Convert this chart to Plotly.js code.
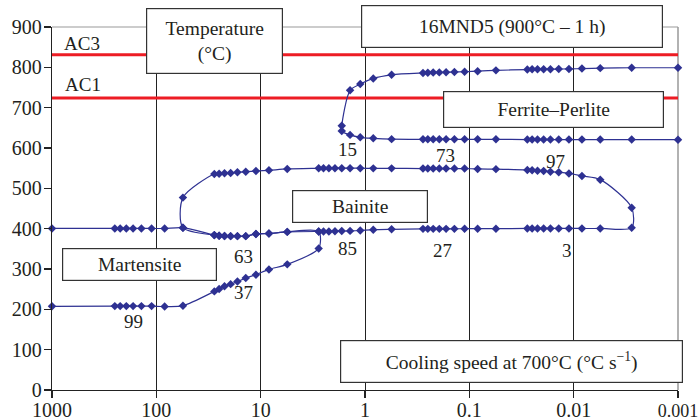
<!DOCTYPE html>
<html>
<head>
<meta charset="utf-8">
<script src="https://cdn.plot.ly/plotly-3.0.1.min.js"></script>
<style>html,body{margin:0;padding:0;background:#fff;}#chart{width:698px;height:420px;}</style>
</head>
<body>
<div id="chart"></div>
<script>
// ---- Data (cooling speed at 700 °C in °C/s, temperature in °C) ----
const xTickVals = [1000, 100, 10, 1, 0.1, 0.01, 0.001];
const xTickText = ['1000', '100', '10', '1', '0.1', '0.01', '<span style="font-size:18px">0.001</span>'];
const yTickVals = [0, 100, 200, 300, 400, 500, 600, 700, 800, 900];

const acNames = ['AC3', 'AC1'];
const acTemps = [831, 724];

// Ferrite–Perlite domain (start line, nose, finish line)
const ferriteX = [0.001, 0.00278, 0.00556, 0.00833, 0.0111, 0.0139, 0.0167, 0.0194, 0.0222, 0.025, 0.0278,
  0.0556, 0.0833, 0.111, 0.139, 0.167, 0.194, 0.222, 0.25, 0.278, 0.556, 0.833, 1.11, 1.39,
  1.67, 1.67,
  1.39, 1.11, 0.833, 0.556, 0.278, 0.25, 0.222, 0.194, 0.167, 0.139, 0.111, 0.0833, 0.0556,
  0.0278, 0.025, 0.0222, 0.0194, 0.0167, 0.0139, 0.0111, 0.00833, 0.00556, 0.00278, 0.001];
const ferriteT = [799, 799, 798, 797, 796, 795.8, 795.5, 795.3, 795, 795, 794.5,
  792.5, 790.5, 789, 788.5, 788, 787.5, 787, 786.5, 786, 781.5, 772.5, 758.5, 743,
  655, 642,
  632.5, 626.5, 624, 622, 621.5, 621.5, 621.5, 621.5, 621.5, 621.5, 621.5, 621.5, 621.5,
  621, 621, 621, 621, 621, 621, 621, 621, 621, 621, 620.7];

// Bainite domain (start line, nose, finish line)
const bainiteX = [27.8, 55.6, 55.6, 27.8, 25, 22.2, 19.4, 16.7, 13.9, 11.1, 8.33, 5.56,
  2.78, 2.5, 2.22, 1.94, 1.67, 1.39, 1.11, 0.833, 0.556, 0.278, 0.25, 0.222, 0.194, 0.167, 0.139, 0.111,
  0.0833, 0.0556, 0.0278, 0.025, 0.0222, 0.0194, 0.0167, 0.0139, 0.0111, 0.00833, 0.00556, 0.00278,
  0.00278, 0.00556, 0.00833, 0.0111, 0.0139, 0.0167, 0.0194, 0.0222, 0.025, 0.0278, 0.0556, 0.0833,
  0.111, 0.139, 0.167, 0.194, 0.222, 0.25, 0.278, 0.556, 0.833, 1.11, 1.39, 1.67, 1.94, 2.22, 2.5,
  2.78, 5.56, 8.33, 11.1, 13.9, 16.7, 19.4, 22.2, 25, 27.8];
const bainiteT = [384, 402.5, 477, 535.6, 536.4, 537.3, 538, 539.8, 541.3, 543, 544.7, 548,
  549.7, 550, 550, 550, 550, 550, 550, 549.5, 549.5, 549, 549, 549, 549, 549, 549, 549,
  548, 547.6, 545.5, 544.6, 543.8, 543, 541.3, 539.7, 537, 530.6, 521.5, 452,
  402.5, 400.5, 400.5, 400.5, 400.5, 400.5, 400.5, 400.5, 400.5, 400.5, 400, 400,
  400, 399.5, 399.5, 399.5, 399.5, 399.5, 399.5, 398.4, 397.5, 395.5, 394.5, 394, 393.5, 393, 393,
  393, 392, 388, 387, 381.5, 381.5, 381.5, 382, 382.5, 384];

// Martensite domain (Ms line and lower line)
const martX = [1000, 250, 222, 194, 167, 139, 111, 83.3, 55.6, 27.8, 25, 22.2, 19.4, 16.7, 13.9, 11.1,
  8.33, 5.56, 2.78, 2.78, 5.56, 8.33, 11.1, 13.9, 16.7, 19.4, 22.2, 25, 27.8, 55.6, 83.3, 111, 139,
  167, 194, 222, 250, 1000];
const martT = [400.5, 400.5, 400.5, 400.5, 400.5, 400.5, 400.5, 400.5, 402.5, 384, 382.5, 382, 381.5, 381.5, 381.5, 387,
  388, 392, 393, 351, 311.5, 299, 286, 277.5, 269, 262.5, 257, 250.5, 244.5, 209, 207, 208, 208,
  208, 208, 208, 208, 207.5];

// Phase percentage labels
const pctText = ['15', '73', '97', '63', '85', '27', '3', '37', '99'];
const pctPx = [[347.7, 149.5], [445.7, 155.7], [555, 161.7], [243.3, 256], [347.3, 248.3],
  [442.7, 250.7], [566.7, 250.7], [243.3, 292.7], [133.3, 321]];

// ---- Layout helpers (pixel -> paper) ----
const L = 52, R = 20, T = 27, B = 30, W = 698, H = 420;
const pw = W - L - R, ph = H - T - B;
const px = x => (x - L) / pw;
const py = y => (H - B - y) / ph;

const BLUE = '#2e3192';
const RED = '#ed1c24';
const INK = '#231f20';
const FONT = 'Liberation Serif, Times New Roman, serif';

function curve(xs, ys) {
  return {
    x: xs, y: ys, type: 'scatter', mode: 'lines+markers',
    line: {color: BLUE, width: 1.2, shape: 'spline', smoothing: 0.8},
    marker: {symbol: 'diamond', size: 6.5, color: BLUE},
    cliponaxis: false, hoverinfo: 'skip'
  };
}

const traces = [];
acTemps.forEach(t => traces.push({
  x: [1000, 0.001], y: [t, t], type: 'scatter', mode: 'lines',
  line: {color: RED, width: 3}, hoverinfo: 'skip', cliponaxis: false
}));
traces.push(curve(ferriteX, ferriteT));
traces.push(curve(bainiteX, bainiteT));
traces.push(curve(martX, martT));

function box(text, x0, x1, y0, y1, size) {
  return {
    xref: 'paper', yref: 'paper', x: px((x0 + x1) / 2), y: py((y0 + y1) / 2),
    xanchor: 'center', yanchor: 'middle', showarrow: false,
    text: text, width: x1 - x0 - 2, height: y1 - y0 - 2,
    bgcolor: '#ffffff', bordercolor: '#333333', borderwidth: 1.2, borderpad: 0,
    font: {family: FONT, size: size || 19.5, color: INK}
  };
}
function label(text, x, y) {
  return {
    xref: 'paper', yref: 'paper', x: px(x), y: py(y), xanchor: 'center', yanchor: 'middle',
    showarrow: false, text: text, font: {family: FONT, size: 19, color: INK}
  };
}

const annotations = [
  box('Temperature<br>(°C)', 146, 283, 8, 74),
  box('16MND5 (900°C – 1 h)', 361, 663, 5, 48),
  box('Ferrite–Perlite', 443, 664, 91, 128),
  box('Bainite', 292, 428, 190, 223),
  box('Martensite', 62, 217, 248, 281),
  box('Cooling speed at 700°C (°C s<sup>−1</sup>)', 340, 683, 340, 383),
  label(acNames[0], 81.7, 43.3),
  label(acNames[1], 83.3, 84)
];
pctText.forEach((t, i) => annotations.push(label(t, pctPx[i][0], pctPx[i][1])));

const layout = {
  width: W, height: H,
  margin: {l: L, r: R, t: T, b: B, pad: 0},
  paper_bgcolor: '#ffffff', plot_bgcolor: '#ffffff',
  showlegend: false,
  font: {family: FONT, size: 19, color: INK},
  xaxis: {
    type: 'log', range: [3, -3], tickmode: 'array', tickvals: xTickVals, ticktext: xTickText,
    showgrid: true, gridcolor: '#222222', gridwidth: 1,
    showline: true, linecolor: '#222222', linewidth: 1.2,
    ticks: 'outside', ticklen: 7, tickcolor: '#222222', tickwidth: 1.2,
    ticklabelstandoff: -5, ticklabeloverflow: 'allow',
    zeroline: false, fixedrange: true,
    tickfont: {family: FONT, size: 20, color: INK}
  },
  yaxis: {
    range: [0, 900], tickmode: 'array', tickvals: yTickVals,
    showgrid: false, showline: true, linecolor: '#222222', linewidth: 1.2,
    ticks: 'outside', ticklen: 7, tickcolor: '#222222', tickwidth: 1.2,
    ticklabelstandoff: -2, ticklabeloverflow: 'allow',
    zeroline: false, fixedrange: true,
    tickfont: {family: FONT, size: 20, color: INK}
  },
  shapes: [
    {type: 'line', xref: 'paper', yref: 'paper', x0: 0, x1: 1, y0: 1, y1: 1,
     line: {color: '#999999', width: 1.2}, layer: 'between'},
    {type: 'line', xref: 'paper', yref: 'paper', x0: 1, x1: 1, y0: 0, y1: 1,
     line: {color: '#999999', width: 1.5}, layer: 'between'}
  ],
  annotations: annotations
};

Plotly.newPlot('chart', traces, layout, {displayModeBar: false, staticPlot: true});
</script>
</body>
</html>
